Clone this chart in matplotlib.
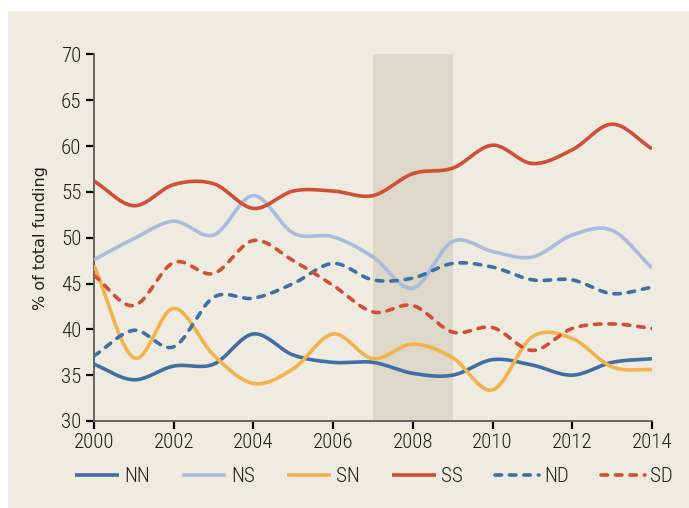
import numpy as np
import matplotlib
matplotlib.use('Agg')
import matplotlib.pyplot as plt
from matplotlib.patches import Rectangle
from matplotlib import font_manager

# data (% of total funding)
years = np.arange(2000, 2015)
nn = [36.2, 34.5, 36.0, 36.2, 39.5, 37.2, 36.4, 36.4, 35.2, 35.0, 36.7, 36.1, 35.0, 36.4, 36.8]
ns = [47.6, 49.9, 51.8, 50.3, 54.6, 50.5, 50.1, 47.9, 44.5, 49.6, 48.5, 47.9, 50.3, 50.8, 46.7]
sn = [47.0, 36.9, 42.3, 37.2, 34.1, 35.7, 39.5, 36.8, 38.4, 36.9, 33.4, 39.2, 39.0, 35.9, 35.6]
ss = [56.2, 53.5, 55.8, 55.9, 53.2, 55.1, 55.1, 54.6, 57.0, 57.6, 60.1, 58.1, 59.6, 62.4, 59.7]
nd = [37.1, 39.9, 38.1, 43.5, 43.4, 45.0, 47.2, 45.4, 45.6, 47.2, 46.8, 45.4, 45.4, 43.9, 44.6]
sd = [45.9, 42.6, 47.3, 46.1, 49.7, 47.5, 44.8, 41.9, 42.6, 39.7, 40.2, 37.7, 40.1, 40.6, 40.1]
crisis = (2007, 2009)

c_nn = '#3f6fa3'
c_ns = '#a9bcdc'
c_sn = '#f2b24c'
c_ss = '#cf5034'
bg = '#efebe1'

names = {f.name for f in font_manager.fontManager.ttflist}
narrow_fam = 'Roboto Condensed' if 'Roboto Condensed' in names else 'DejaVu Sans'
narrow = font_manager.FontProperties(family=narrow_fam, weight='light', size=15)


def smooth(x, y, n=20):
    # catmull-rom curve through the yearly points (like the smoothed excel lines)
    x = np.asarray(x, float)
    y = np.asarray(y, float)
    px = np.concatenate([[2 * x[0] - x[1]], x, [2 * x[-1] - x[-2]]])
    py = np.concatenate([[2 * y[0] - y[1]], y, [2 * y[-1] - y[-2]]])
    t = np.linspace(0, 1, n, endpoint=False)
    xs, ys = [], []
    for i in range(1, len(px) - 2):
        for P, out in ((px, xs), (py, ys)):
            p0, p1, p2, p3 = P[i - 1], P[i], P[i + 1], P[i + 2]
            out.extend(0.5 * (2 * p1 + (-p0 + p2) * t + (2 * p0 - 5 * p1 + 4 * p2 - p3) * t ** 2
                              + (-p0 + 3 * p1 - 3 * p2 + p3) * t ** 3))
    xs.append(x[-1])
    ys.append(y[-1])
    return np.array(xs), np.array(ys)


fig = plt.figure(figsize=(6.89, 5.08), dpi=100, facecolor='white')
fig.patches.append(Rectangle((8 / 689, 0), 1, 1 - 11 / 508, transform=fig.transFigure,
                             facecolor=bg, edgecolor='none', zorder=-10))
ax = fig.add_axes([94 / 689, 87 / 508, 558 / 689, 366.5 / 508])
ax.set_facecolor(bg)

ax.axvspan(crisis[0], crisis[1], color='#ded8cb', lw=0, zorder=1)

series = [('NN', nn, c_nn, '-'), ('NS', ns, c_ns, '-'), ('SN', sn, c_sn, '-'),
          ('SS', ss, c_ss, '-'), ('ND', nd, c_nn, (0, (1.8, 2.2))), ('SD', sd, c_ss, (0, (1.8, 2.2)))]
for name, vals, col, ls in series:
    xs, ys = smooth(years, vals)
    ax.plot(xs, ys, color=col, lw=2.6, ls=ls, label=name, zorder=3,
            dash_capstyle='round', solid_capstyle='butt')

ax.set_xlim(2000, 2014)
ax.set_ylim(30, 70)
ax.set_xticks(np.arange(2000, 2015, 2))
ax.set_yticks(np.arange(30, 71, 5))
ax.spines['top'].set_visible(False)
ax.spines['right'].set_visible(False)
for s in ('left', 'bottom'):
    ax.spines[s].set_color('#5a5a5a')
    ax.spines[s].set_linewidth(1.3)
ax.tick_params(direction='out', length=6, width=1.6, color='black', pad=3,
               labelcolor='#1e1e1e')
for lab in ax.get_xticklabels() + ax.get_yticklabels():
    lab.set_fontproperties(narrow)
ax.set_ylabel('% of total funding', fontsize=11.5, color='#222222', labelpad=9)

leg = fig.legend(loc='center', bbox_to_anchor=(374 / 689, 1 - 477 / 508), ncol=6, frameon=False,
                 handlelength=2.1, handletextpad=0.25, columnspacing=1.55, prop=narrow)
for t in leg.get_texts():
    t.set_color('#1e1e1e')

fig.savefig('out.png', dpi=100, facecolor='white')
